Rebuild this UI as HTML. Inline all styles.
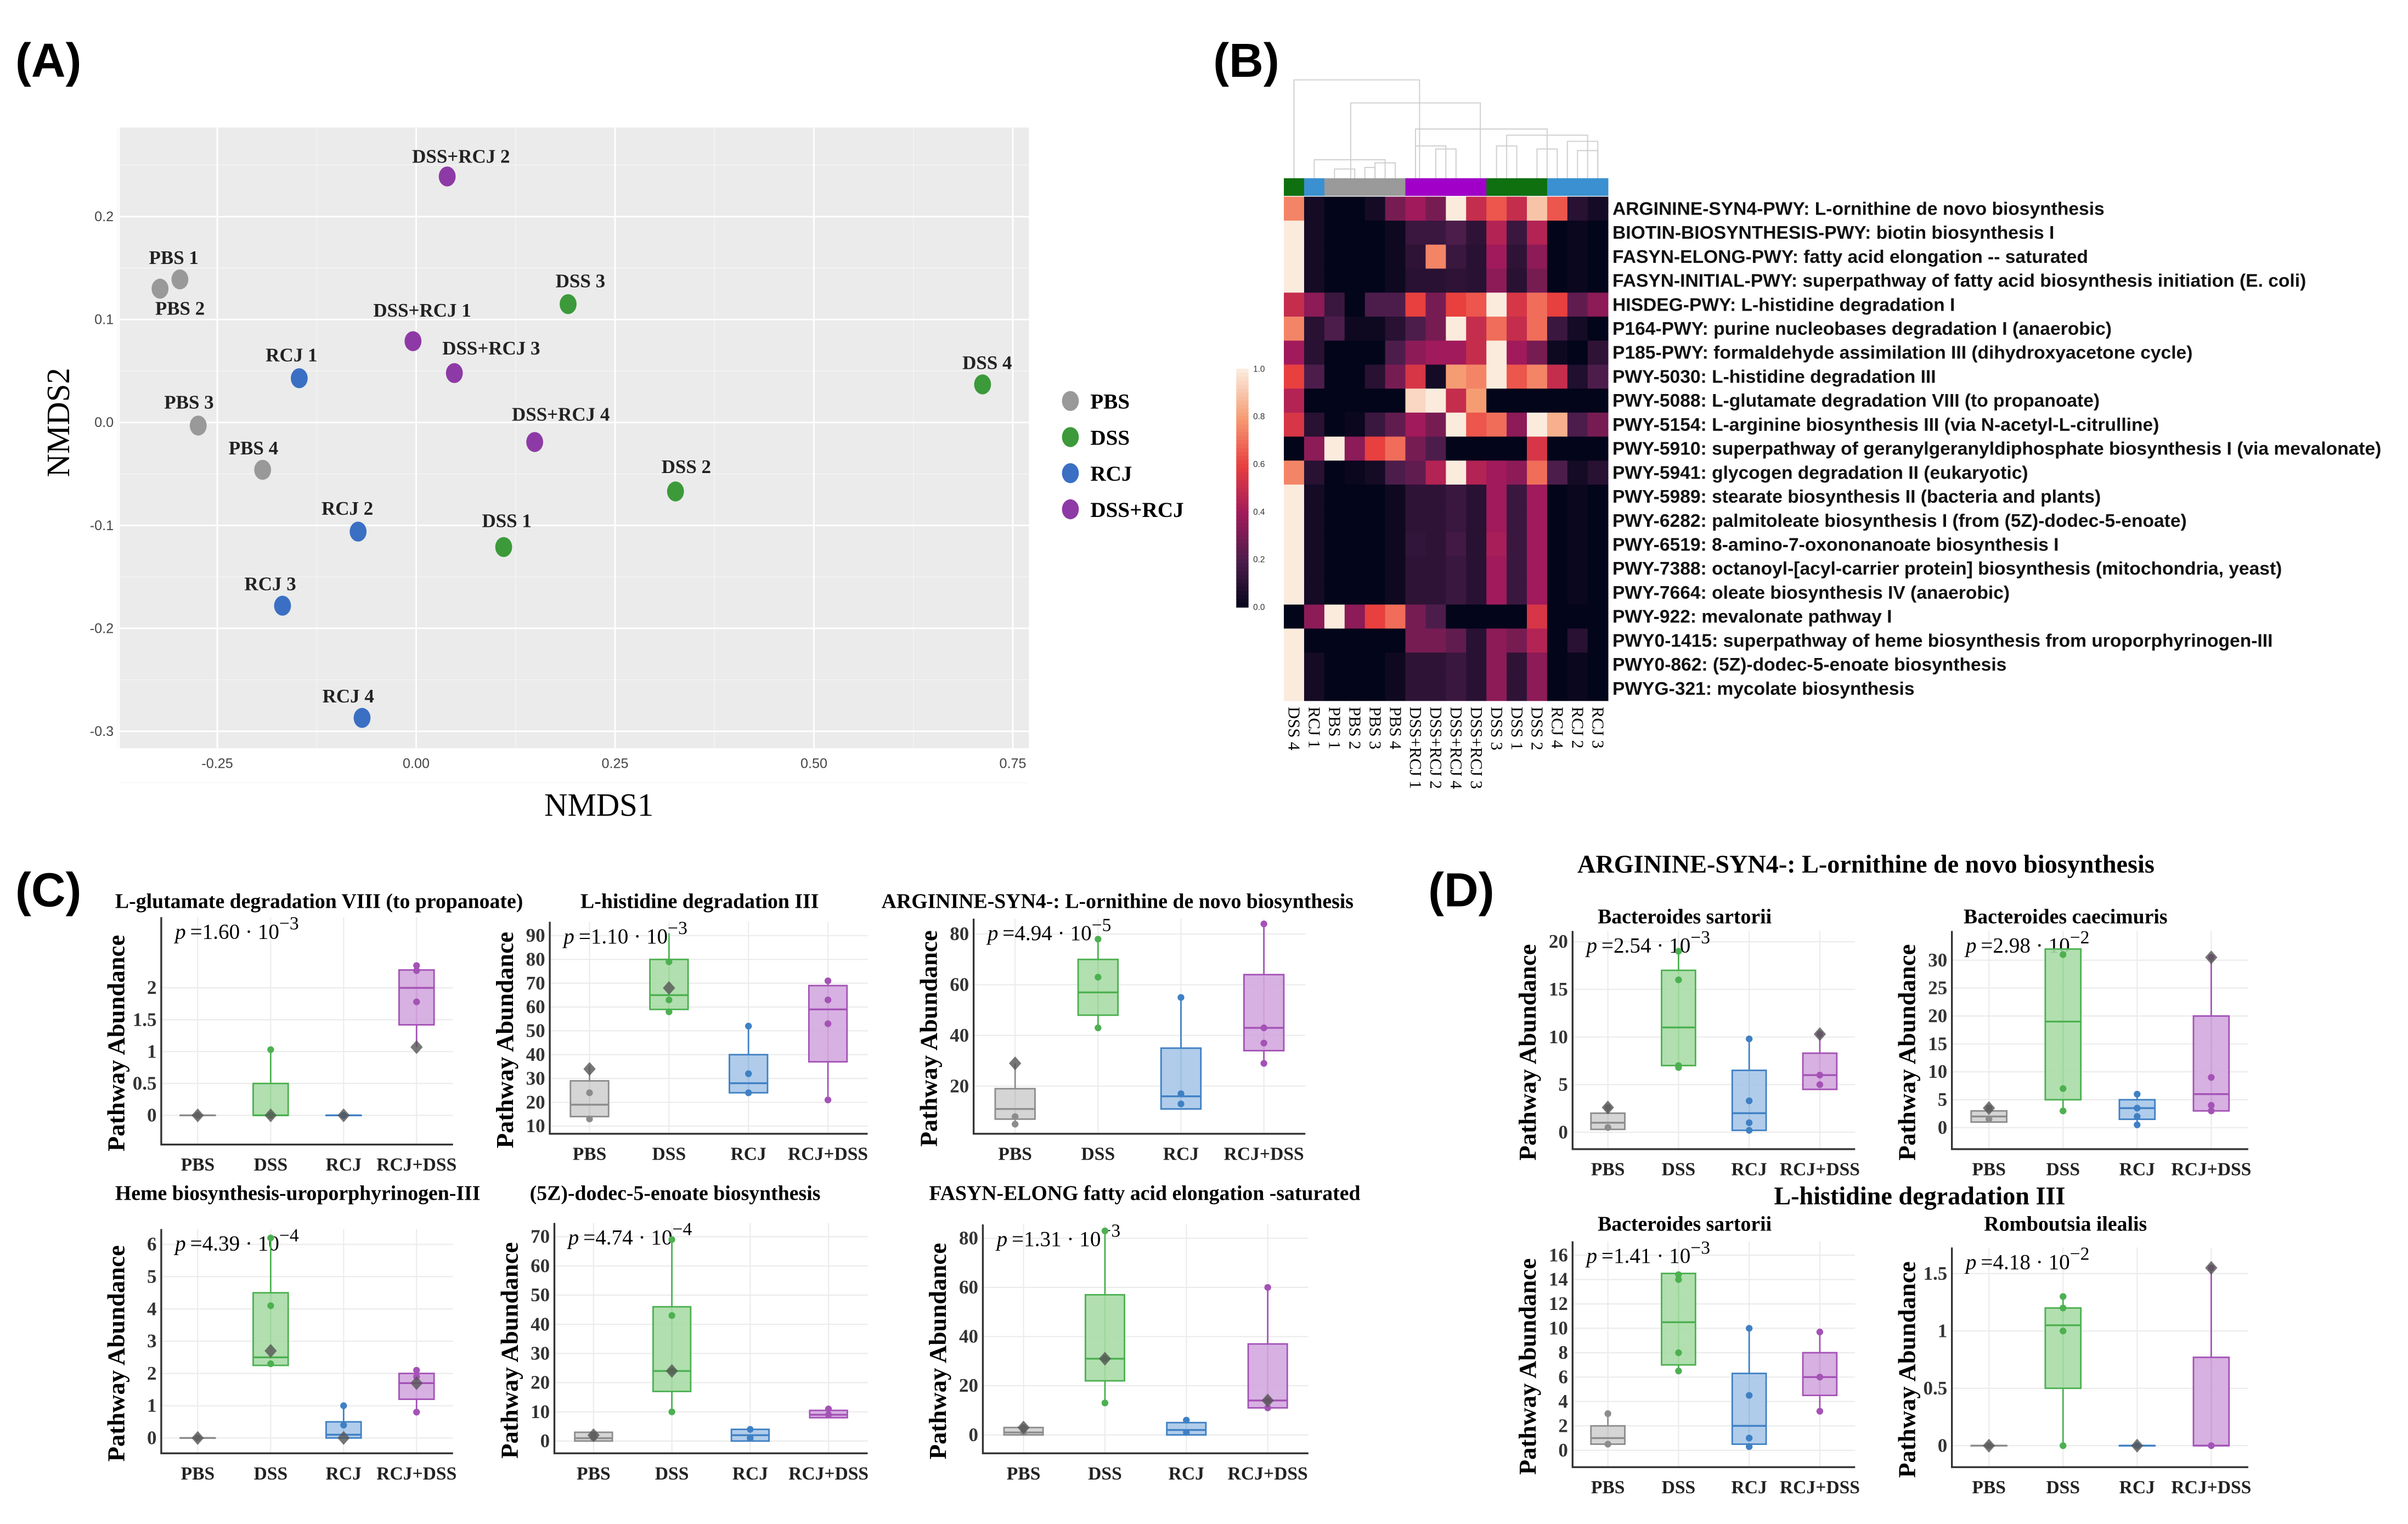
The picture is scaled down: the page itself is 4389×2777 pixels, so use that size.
<!DOCTYPE html>
<html><head><meta charset="utf-8"><style>
html,body{margin:0;padding:0;background:#fff}
svg{display:block}
.ser{font-family:"Liberation Serif",serif}
.sans{font-family:"Liberation Sans",sans-serif}
</style></head><body>
<svg id="fig" width="4389" height="2777" viewBox="0 0 1568 992" preserveAspectRatio="none" xmlns="http://www.w3.org/2000/svg">
<rect x="0" y="0" width="1568" height="992" fill="#fff"/>
<text x="10" y="50" class="sans" font-size="31" font-weight="bold">(A)</text>
<text x="790" y="50" class="sans" font-size="31" font-weight="bold">(B)</text>
<text x="10" y="590" class="sans" font-size="31" font-weight="bold">(C)</text>
<text x="930" y="590" class="sans" font-size="31" font-weight="bold">(D)</text>
<g id="A"></g><g id="B"></g><g id="C"></g>
</svg>
<script>
// ---------- Panel A data ----------
const nmdsLabels=["PBS 1","PBS 2","PBS 3","PBS 4","DSS 1","DSS 2","DSS 3","DSS 4","RCJ 1","RCJ 2","RCJ 3","RCJ 4","DSS+RCJ 1","DSS+RCJ 2","DSS+RCJ 3","DSS+RCJ 4"];
const nmdsGroup=[0,0,0,0,1,1,1,1,2,2,2,2,3,3,3,3];
const nmds1=[-0.297,-0.322,-0.274,-0.193,0.110,0.326,0.191,0.712,-0.147,-0.073,-0.168,-0.068,-0.004,0.039,0.048,0.149];
const nmds2=[0.139,0.130,-0.003,-0.046,-0.121,-0.067,0.115,0.037,0.043,-0.106,-0.178,-0.287,0.079,0.239,0.048,-0.019];
const xTicksA=[-0.25,0,0.25,0.5,0.75];
const xTickLabelsA=["-0.25","0.00","0.25","0.50","0.75"];
const yTicksA=[0.2,0.1,0,-0.1,-0.2,-0.3];
const yTickLabelsA=["0.2","0.1","0.0","-0.1","-0.2","-0.3"];
const groupNames=["PBS","DSS","RCJ","DSS+RCJ"];
// ---------- Panel B data ----------
const hmCols=["DSS 4","RCJ 1","PBS 1","PBS 2","PBS 3","PBS 4","DSS+RCJ 1","DSS+RCJ 2","DSS+RCJ 4","DSS+RCJ 3","DSS 3","DSS 1","DSS 2","RCJ 4","RCJ 2","RCJ 3"];
const hmColGroup=[1,2,0,0,0,0,3,3,3,3,1,1,1,2,2,2];
const hmRows=["ARGININE-SYN4-PWY: L-ornithine de novo  biosynthesis","BIOTIN-BIOSYNTHESIS-PWY: biotin biosynthesis I","FASYN-ELONG-PWY: fatty acid elongation -- saturated","FASYN-INITIAL-PWY: superpathway of fatty acid biosynthesis initiation (E. coli)","HISDEG-PWY: L-histidine degradation I","P164-PWY: purine nucleobases degradation I (anaerobic)","P185-PWY: formaldehyde assimilation III (dihydroxyacetone cycle)","PWY-5030: L-histidine degradation III","PWY-5088: L-glutamate degradation VIII (to propanoate)","PWY-5154: L-arginine biosynthesis III (via N-acetyl-L-citrulline)","PWY-5910: superpathway of geranylgeranyldiphosphate biosynthesis I (via mevalonate)","PWY-5941: glycogen degradation II (eukaryotic)","PWY-5989: stearate biosynthesis II (bacteria and plants)","PWY-6282: palmitoleate biosynthesis I (from (5Z)-dodec-5-enoate)","PWY-6519: 8-amino-7-oxononanoate biosynthesis I","PWY-7388: octanoyl-[acyl-carrier protein] biosynthesis (mitochondria, yeast)","PWY-7664: oleate biosynthesis IV (anaerobic)","PWY-922: mevalonate pathway I","PWY0-1415: superpathway of heme biosynthesis from uroporphyrinogen-III","PWY0-862: (5Z)-dodec-5-enoate biosynthesis","PWYG-321: mycolate biosynthesis"];
const hmValues=[
[.75,.05,0,0,.05,.3,.4,.3,1,.5,.65,.5,.9,.65,.1,.05],
[1,.05,0,0,0,.03,.15,.15,.2,.12,.45,.15,.45,0,.02,0],
[1,.05,0,0,0,.03,.12,.75,.15,.1,.4,.12,.35,0,.02,0],
[1,.05,0,0,0,.03,.1,.1,.12,.1,.35,.1,.3,0,.02,0],
[.5,.35,.15,0,.2,.2,.6,.3,.6,.65,1,.55,.7,.6,.25,.35],
[.75,.1,.2,.03,.03,.1,.2,.3,1,.5,.7,.5,.7,.15,.05,0],
[.4,.1,0,0,0,.2,.35,.4,.4,.5,1,.4,.3,.03,0,.12],
[.6,.2,0,0,.1,.3,.55,.05,.8,.75,1,.65,.75,.5,.08,.2],
[.45,0,0,0,0,0,.95,1,.5,.8,0,0,0,0,0,0],
[.55,.1,0,.02,.15,.25,.4,.3,1,.65,.7,.35,1,.85,.2,.3],
[0,.35,1,.35,.6,.7,.3,.2,0,0,0,0,.55,0,0,0],
[.75,.1,0,.02,.05,.2,.25,.45,1,.45,.4,.35,.7,.2,.05,.1],
[1,.05,0,0,0,.03,.12,.12,.15,.1,.4,.15,.4,0,.02,0],
[1,.05,0,0,0,.03,.12,.12,.15,.1,.4,.15,.4,0,.02,0],
[1,.05,0,0,0,.03,.13,.12,.17,.1,.42,.15,.4,0,.02,0],
[1,.05,0,0,0,.03,.12,.12,.15,.1,.4,.15,.4,0,.02,0],
[1,.05,0,0,0,.03,.12,.12,.15,.1,.4,.15,.4,0,.02,0],
[0,.35,1,.35,.6,.7,.3,.2,0,0,0,0,.55,0,0,0],
[1,0,0,0,0,0,.3,.3,.25,.1,.35,.3,.45,0,.1,0],
[1,.05,0,0,0,.03,.12,.12,.15,.1,.35,.12,.35,0,.02,0],
[1,.05,0,0,0,.03,.12,.12,.15,.1,.35,.12,.35,0,.02,0]];
const cbTicks=[1,0.8,0.6,0.4,0.2,0];
const cbTickLabels=["1.0","0.8","0.6","0.4","0.2","0.0"];
// ---------- Boxplot data (panels C1..C6, D1..D4), groups PBS,DSS,RCJ,RCJ+DSS ----------
const boxCats=["PBS","DSS","RCJ","RCJ+DSS"];
const boxTitles=["L-glutamate degradation VIII (to propanoate)","L-histidine degradation III","ARGININE-SYN4-: L-ornithine de novo biosynthesis","Heme biosynthesis-uroporphyrinogen-III","(5Z)-dodec-5-enoate biosynthesis","FASYN-ELONG fatty acid elongation -saturated","Bacteroides sartorii","Bacteroides caecimuris","Bacteroides sartorii","Romboutsia ilealis"];
const boxP=["1.60","1.10","4.94","4.39","4.74","1.31","2.54","2.98","1.41","4.18"];
const boxPExp=["−3","−3","−5","−4","−4","−3","−3","−2","−3","−2"];
const yTicks=[[0,0.5,1,1.5,2],[10,20,30,40,50,60,70,80,90],[20,40,60,80],[0,1,2,3,4,5,6],[0,10,20,30,40,50,60,70],[0,20,40,60,80],[0,5,10,15,20],[0,5,10,15,20,25,30],[0,2,4,6,8,10,12,14,16],[0,0.5,1,1.5]];
const yTickLabels=[["0","0.5","1","1.5","2"],["10","20","30","40","50","60","70","80","90"],["20","40","60","80"],["0","1","2","3","4","5","6"],["0","10","20","30","40","50","60","70"],["0","20","40","60","80"],["0","5","10","15","20"],["0","5","10","15","20","25","30"],["0","2","4","6","8","10","12","14","16"],["0","0.5","1","1.5"]];
const boxLo=[[0,0,0,1.07],[13,57,24,21],[5,43,13,29],[0,2.2,0,0.8],[0,10,0,8],[0,13,0,11],[0.3,6.8,0.2,4.5],[1,3,0.5,3],[0.3,6.5,0.3,3.2],[0,0,0,0]];
const boxQ1=[[0,0,0,1.42],[14,59,24,37],[7,48,11,34],[0,2.25,0,1.2],[0,17,0,8],[0,22,0,11],[0.3,7,0.2,4.5],[1,5,1.5,3],[0.5,7,0.5,4.5],[0,0.5,0,0]];
const boxMed=[[0,0,0,2.0],[19,65,28,59],[11,57,16,43],[0,2.5,0.1,1.7],[1,24,2,9],[1,31,2,14],[1,11,2,6],[2,19,3.5,6],[1,10.5,2,6],[0,1.05,0,0]];
const boxQ3=[[0,0.5,0,2.28],[29,80,40,69],[19,70,35,64],[0,4.5,0.5,2.0],[3,46,4,10.5],[3,57,5,37],[2,17,6.5,8.3],[3,32,5,20],[2,14.5,6.3,8],[0,1.2,0,0.77]];
const boxHi=[[0,1.03,0,2.35],[35,91,52,71],[29,78,55,84],[0,6.3,1.0,2.1],[3,69,4,12],[3,83,6,60],[2.6,19,9.8,10.3],[3.5,32,6,30.5],[3,14.5,10,9.7],[0,1.3,0,1.55]];
const boxPts=[[[0],[0,1.03],[0],[2.35,2.27,1.78]],[[24,13],[79,63,58],[52,32,24],[71,63,53,21]],[[8,5],[78,63,43],[55,17,13],[84,43,37,29]],[[0],[6.2,4.1,2.3],[1.0,0.4],[2.1,1.9,0.8]],[[2,1],[69,43,24,10],[4,1],[11,9]],[[3,1],[83,31,13],[6,1],[60,14,11]],[[2.6,0.5],[19,16,7,6.8],[9.8,3.3,1,0.2],[10.3,6,5]],[[3.5,1.5],[31,7,3],[6,3.5,2,0.5],[30.5,9,4,3]],[[3,0.5],[14.4,14,8,6.5],[10,4.5,1,0.3],[9.7,6,3.2]],[[0],[1.3,1.2,1.0,0],[0],[1.55,0]]];
const boxDiamond=[[0,0,0,1.07],[34,68,null,null],[29,null,null,null],[0,2.7,0,1.7],[2,24,null,null],[3,31,null,14],[2.6,null,null,10.3],[3.5,null,null,30.5],[null,null,null,null],[0,null,0,1.55]];

// ---------- helpers ----------
const NS="http://www.w3.org/2000/svg";
function mk(parent,tag,attrs,txt){const e=document.createElementNS(NS,tag);for(const k in attrs)e.setAttribute(k,attrs[k]);if(txt!==undefined)e.textContent=txt;parent.appendChild(e);return e;}
const gA=document.getElementById("A"),gB=document.getElementById("B"),gC=document.getElementById("C");

// ---------- Panel A ----------
(function(){
const L=78,R=670,T=83,B=487;
const sx=v=>271+v*518, sy=v=>275-v*670;
const bg=mk(gA,"rect",{x:L,y:T,width:R-L,height:B-T,fill:"#ebebeb"});


for(let v=-0.375;v<=0.8;v+=0.25){mk(gA,"line",{x1:sx(v),x2:sx(v),y1:T,y2:B,stroke:"#f5f5f5","stroke-width":0.5});}
for(let v=-0.35;v<=0.3;v+=0.1){mk(gA,"line",{x1:L,x2:R,y1:sy(v),y2:sy(v),stroke:"#f5f5f5","stroke-width":0.5});}
xTicksA.forEach((v,i)=>{mk(gA,"line",{x1:sx(v),x2:sx(v),y1:T,y2:B,stroke:"#fff","stroke-width":1});
const t=mk(gA,"text",{x:sx(v),y:B+13,"font-size":9,"text-anchor":"middle",fill:"#444",class:"sans"},xTickLabelsA[i]);
});
yTicksA.forEach((v,i)=>{mk(gA,"line",{x1:L,x2:R,y1:sy(v),y2:sy(v),stroke:"#fff","stroke-width":1});
const t=mk(gA,"text",{x:L-4,y:sy(v)+3,"font-size":9,"text-anchor":"end",fill:"#444",class:"sans"},yTickLabelsA[i]);
});
const xt=mk(gA,"text",{x:390,y:531,"font-size":21,"text-anchor":"middle",class:"ser"},"NMDS1");

const yt=mk(gA,"text",{x:45,y:275,"font-size":21,"text-anchor":"middle",class:"ser",transform:"rotate(-90 45 275)"},"NMDS2");

const cols=["#999999","#3c9a3a","#3a6fc4","#8e3aa6"];
const lblDx=[-4,13,-6,-6,2,7,8,3,-5,-7,-8,-9,6,9,24,17];
const lblDy=[-14,13,-15,-14,-17,-16,-15,-14,-15,-15,-14,-14,-20,-13,-16,-18];
nmds1.forEach((v,i)=>{
const c=mk(gA,"ellipse",{cx:sx(v),cy:sy(nmds2[i]),rx:5.5,ry:6.5,fill:cols[nmdsGroup[i]]});

const t=mk(gA,"text",{x:sx(v)+lblDx[i],y:sy(nmds2[i])+lblDy[i]+4,"font-size":12.5,"font-weight":"bold","text-anchor":"middle",class:"ser",fill:"#222"},nmdsLabels[i]);
});
groupNames.forEach((n,i)=>{
const c=mk(gA,"ellipse",{cx:697,cy:261+i*23.5,rx:5.5,ry:6.5,fill:cols[i]});

const t=mk(gA,"text",{x:710,y:266+i*23.5,"font-size":14,"font-weight":"bold",class:"ser"},n);
});
})();

// ---------- Panel B ----------
(function(){
const L=836,W=211,T=128,H=328,n=hmCols.length,m=hmRows.length,cw=W/n,rh=H/m;
const stops=[[0,[3,5,26]],[0.2,[76,29,75]],[0.4,[161,26,91]],[0.6,[232,63,63]],[0.8,[246,156,115]],[1,[250,235,221]]];
function cmap(v){for(let i=1;i<stops.length;i++){if(v<=stops[i][0]){const a=stops[i-1],b=stops[i],t=(v-a[0])/(b[0]-a[0]);return "rgb("+a[1].map((c,k)=>Math.round(c+(b[1][k]-c)*t)).join(",")+")";}}return "rgb(250,235,221)";}
const gcol=["#9a9a9a","#0f7010","#3a90d0","#a000c8"];
const cx=i=>L+cw*(i+0.5);
const dl=[[2,3,110],[3.5,4,109],[4,5,106],[1,4.5,104],[7,8,97],[6,7.5,95],[12,13,97],[14,15,98],[10,11,95],[13.5,15,92],[10.5,14.5,88],[6,12.5,84],[2.8,9.2,67],[0,6.2,52]];
dl.forEach(d=>{mk(gB,"path",{d:`M${cx(d[0])},116V${d[2]}H${cx(d[1])}V116`,fill:"none",stroke:"#cfcfcf","stroke-width":0.7});});
hmColGroup.forEach((g,i)=>{const r=mk(gB,"rect",{x:L+i*cw,y:116,width:cw+0.3,height:11.5,fill:gcol[g]});
});
hmValues.forEach((row,r)=>{row.forEach((v,c)=>{
const e=mk(gB,"rect",{x:L+c*cw,y:T+r*rh,width:cw+0.3,height:rh+0.3,fill:cmap(v)});
});
const t=mk(gB,"text",{x:L+W+3,y:T+r*rh+rh/2+4,"font-size":12,"font-weight":"bold",class:"sans",fill:"#111"},hmRows[r]);
});
hmCols.forEach((c,i)=>{const x=cx(i)-3.5,y=T+H+4;
const t=mk(gB,"text",{x:x,y:y,"font-size":11,class:"ser",transform:`rotate(90 ${x} ${y})`},c);
});
const cbT=240,cbB=395;
for(let k=0;k<60;k++){const v=1-k/60;mk(gB,"rect",{x:805,y:cbT+k*(cbB-cbT)/60,width:8,height:(cbB-cbT)/60+0.5,fill:cmap(v)});}
cbTicks.forEach((v,i)=>{const y=cbB-v*(cbB-cbT);
const t=mk(gB,"text",{x:816,y:y+2,"font-size":5.5,class:"sans",fill:"#333"},cbTickLabels[i]);
});
})();

// ---------- Boxplots ----------
const geo=[
[105,295,745,597,0,726,2,643,75,591,"start"],
[358,565,738,600,10,733,90,609,378,591,"start"],
[634,850,738,598,20,707,80,608,574,591,"start"],
[105,295,946,800,0,936,6,810,75,781,"start"],
[361,565,946,796,0,938,70,805,345,781,"start"],
[640,852,946,797,0,934,80,806,605,781,"start"],
[1024,1208,748,606,0,737,20,613,1097,601,"middle"],
[1271,1464,748,606,0,734,30,625,1345,601,"middle"],
[1024,1208,955,808,0,944,16,817,1097,801,"middle"],
[1271,1464,955,812,0,941,1.5,829,1345,801,"middle"]];
const gc=[["#8c8c8c","#d0d0d0"],["#4cb050","#a9dca6"],["#3f80c4","#a7c7e8"],["#a452b6","#d3a9de"]];
boxTitles.forEach((title,p)=>{
const [L,R,B,T,v0,y0,v1,y1,tx,ty,ta]=geo[p];
const sy=v=>y0+(v-v0)*(y1-y0)/(v1-v0);
const bw=(R-L)/4, cx=i=>L+bw*(i+0.5);
const g=mk(gC,"g",{});

const tt=mk(g,"text",{x:tx,y:ty,"font-size":13.5,"font-weight":"bold",class:"ser","text-anchor":ta},title);

yTicks[p].forEach((v,i)=>{mk(g,"line",{x1:L,x2:R,y1:sy(v),y2:sy(v),stroke:"#ececec","stroke-width":0.8});
const t=mk(g,"text",{x:L-3,y:sy(v)+4,"font-size":12.5,"font-weight":"bold",class:"ser","text-anchor":"end",fill:"#333"},yTickLabels[p][i]);
});
boxCats.forEach((c,i)=>{mk(g,"line",{x1:cx(i),x2:cx(i),y1:T,y2:B,stroke:"#ececec","stroke-width":0.8});
const t=mk(g,"text",{x:cx(i),y:B+17,"font-size":12,"font-weight":"bold",class:"ser","text-anchor":"middle",fill:"#222"},c);
});
mk(g,"path",{d:`M${L},${T}V${B}H${R}`,fill:"none",stroke:"#333","stroke-width":1.2});
const ylx=L-24,yly=(T+B)/2+8;
const yl=mk(g,"text",{x:ylx,y:yly,"font-size":16,"font-weight":"bold",class:"ser","text-anchor":"middle",transform:`rotate(-90 ${ylx} ${yly})`},"Pathway  Abundance");

const pt=mk(g,"text",{x:L+9,y:T+14,"font-size":14,class:"ser"});

mk(pt,"tspan",{"font-style":"italic"},"p");
mk(pt,"tspan",{},"\u2009=" + boxP[p] + " \u00b7 10");
mk(pt,"tspan",{dy:-6,"font-size":12},boxPExp[p]);
boxCats.forEach((c,i)=>{
const [stroke,fill]=gc[i],x=cx(i),w=bw*0.48;
mk(g,"line",{x1:x,x2:x,y1:sy(boxLo[p][i]),y2:sy(boxHi[p][i]),stroke:stroke,"stroke-width":1});
const q1=sy(boxQ1[p][i]),q3=sy(boxQ3[p][i]);
const bx=mk(g,"rect",{x:x-w/2,y:q3,width:w,height:Math.max(q1-q3,0.1),fill:fill,stroke:stroke,"stroke-width":1,"fill-opacity":0.9});

mk(g,"line",{x1:x-w/2,x2:x+w/2,y1:sy(boxMed[p][i]),y2:sy(boxMed[p][i]),stroke:stroke,"stroke-width":1.2});
boxPts[p][i].forEach(v=>{const d=mk(g,"circle",{cx:x,cy:sy(v),r:2.2,fill:stroke});
});
const dv=boxDiamond[p][i];
if(dv!==null){const y=sy(dv);const d=mk(g,"path",{d:`M${x},${y-4.5}L${x+4},${y}L${x},${y+4.5}L${x-4},${y}Z`,fill:"#555","fill-opacity":0.8});
}
});
});
const h1=mk(gC,"text",{x:1215,y:568,"font-size":16.5,"font-weight":"bold",class:"ser","text-anchor":"middle"},"ARGININE-SYN4-: L-ornithine de novo biosynthesis");

const h2=mk(gC,"text",{x:1250,y:784,"font-size":16.5,"font-weight":"bold",class:"ser","text-anchor":"middle"},"L-histidine degradation III");

</script>
</body></html>
